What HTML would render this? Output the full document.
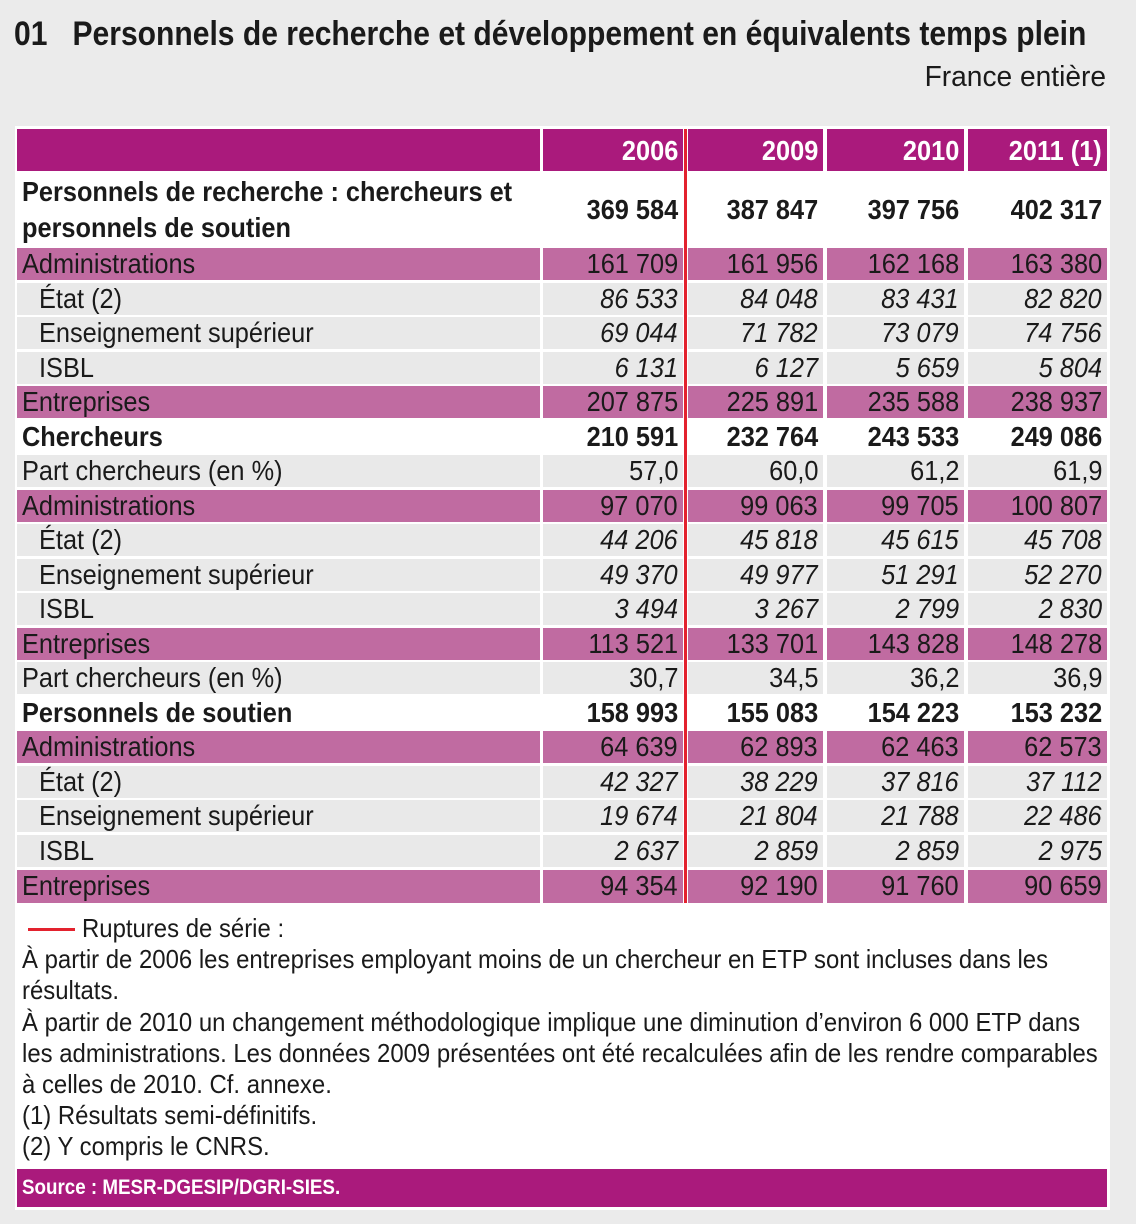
<!DOCTYPE html>
<html><head><meta charset="utf-8"><style>
*{margin:0;padding:0;box-sizing:border-box}
body{width:1136px;height:1224px;background:#ebebeb;position:relative;overflow:hidden;font-family:"Liberation Sans",sans-serif;color:#1a1a1a}
.a{position:absolute;white-space:nowrap}
.panel{left:15px;top:126px;width:1095px;height:1084px;background:#fff}
.r{position:absolute;left:0;width:1136px;height:32px}
.c{position:absolute;top:0;height:100%;font-size:28px;line-height:32px;white-space:nowrap;overflow:visible}
.c0{left:17px;width:523px;text-align:left;padding-left:5px}
.c1{left:543px;width:140px}.c2{left:688px;width:135px}.c3{left:827px;width:137px}.c4{left:968px;width:139px}
.c1,.c2,.c3,.c4{text-align:right;padding-right:5px}
.t{display:inline-block;transform:scaleX(.905);transform-origin:right center}
.c0 .t{transform-origin:left center}
.p .c{background:#c06ba1}
.g .c{background:#e9e9e9}
.i .c1,.i .c2,.i .c3,.i .c4{font-style:italic}
.b .c{font-weight:bold}
.s .c0{padding-left:22px}
.h .c{background:#aa1a7c;color:#fff;font-weight:bold;height:42px;line-height:44px}
.fn{left:22px;font-size:26px;line-height:31px}
.fn .t{transform-origin:left center;transform:scaleX(.92)}
</style></head><body>
<div class="a" style="left:14px;top:14px;font-size:34px;font-weight:bold;line-height:40px"><span class="t" style="transform-origin:left center;transform:scaleX(.884)">01&nbsp;&nbsp;&nbsp;Personnels de recherche et développement en équivalents temps plein</span></div>
<div class="a" style="right:30px;top:60px;font-size:29px;line-height:34px"><span class="t" style="transform:scaleX(.97)">France entière</span></div>
<div class="a panel"></div>

<div class="r h" style="top:129px"><div class="c c0"></div><div class="c c1"><span class="t">2006</span></div><div class="c c2"><span class="t">2009</span></div><div class="c c3"><span class="t">2010</span></div><div class="c c4"><span class="t">2011 (1)</span></div></div>

<div class="r b" style="top:173px;height:73px"><div class="c c0" style="line-height:36px;padding-top:1px"><span class="t">Personnels de recherche : chercheurs et<br>personnels de soutien</span></div><div class="c c1" style="line-height:73px"><span class="t">369 584</span></div><div class="c c2" style="line-height:73px"><span class="t">387 847</span></div><div class="c c3" style="line-height:73px"><span class="t">397 756</span></div><div class="c c4" style="line-height:73px"><span class="t">402 317</span></div></div>

<div class="r p" style="top:248px"><div class="c c0"><span class="t">Administrations</span></div><div class="c c1"><span class="t">161 709</span></div><div class="c c2"><span class="t">161 956</span></div><div class="c c3"><span class="t">162 168</span></div><div class="c c4"><span class="t">163 380</span></div></div>
<div class="r g i s" style="top:282.5px"><div class="c c0"><span class="t">État (2)</span></div><div class="c c1"><span class="t">86 533</span></div><div class="c c2"><span class="t">84 048</span></div><div class="c c3"><span class="t">83 431</span></div><div class="c c4"><span class="t">82 820</span></div></div>
<div class="r g i s" style="top:317px"><div class="c c0"><span class="t">Enseignement supérieur</span></div><div class="c c1"><span class="t">69 044</span></div><div class="c c2"><span class="t">71 782</span></div><div class="c c3"><span class="t">73 079</span></div><div class="c c4"><span class="t">74 756</span></div></div>
<div class="r g i s" style="top:351.5px"><div class="c c0"><span class="t">ISBL</span></div><div class="c c1"><span class="t">6 131</span></div><div class="c c2"><span class="t">6 127</span></div><div class="c c3"><span class="t">5 659</span></div><div class="c c4"><span class="t">5 804</span></div></div>
<div class="r p" style="top:386px"><div class="c c0"><span class="t">Entreprises</span></div><div class="c c1"><span class="t">207 875</span></div><div class="c c2"><span class="t">225 891</span></div><div class="c c3"><span class="t">235 588</span></div><div class="c c4"><span class="t">238 937</span></div></div>
<div class="r b" style="top:420.5px"><div class="c c0"><span class="t">Chercheurs</span></div><div class="c c1"><span class="t">210 591</span></div><div class="c c2"><span class="t">232 764</span></div><div class="c c3"><span class="t">243 533</span></div><div class="c c4"><span class="t">249 086</span></div></div>
<div class="r g" style="top:455px"><div class="c c0"><span class="t">Part chercheurs (en %)</span></div><div class="c c1"><span class="t">57,0</span></div><div class="c c2"><span class="t">60,0</span></div><div class="c c3"><span class="t">61,2</span></div><div class="c c4"><span class="t">61,9</span></div></div>
<div class="r p" style="top:489.5px"><div class="c c0"><span class="t">Administrations</span></div><div class="c c1"><span class="t">97 070</span></div><div class="c c2"><span class="t">99 063</span></div><div class="c c3"><span class="t">99 705</span></div><div class="c c4"><span class="t">100 807</span></div></div>
<div class="r g i s" style="top:524px"><div class="c c0"><span class="t">État (2)</span></div><div class="c c1"><span class="t">44 206</span></div><div class="c c2"><span class="t">45 818</span></div><div class="c c3"><span class="t">45 615</span></div><div class="c c4"><span class="t">45 708</span></div></div>
<div class="r g i s" style="top:558.5px"><div class="c c0"><span class="t">Enseignement supérieur</span></div><div class="c c1"><span class="t">49 370</span></div><div class="c c2"><span class="t">49 977</span></div><div class="c c3"><span class="t">51 291</span></div><div class="c c4"><span class="t">52 270</span></div></div>
<div class="r g i s" style="top:593px"><div class="c c0"><span class="t">ISBL</span></div><div class="c c1"><span class="t">3 494</span></div><div class="c c2"><span class="t">3 267</span></div><div class="c c3"><span class="t">2 799</span></div><div class="c c4"><span class="t">2 830</span></div></div>
<div class="r p" style="top:627.5px"><div class="c c0"><span class="t">Entreprises</span></div><div class="c c1"><span class="t">113 521</span></div><div class="c c2"><span class="t">133 701</span></div><div class="c c3"><span class="t">143 828</span></div><div class="c c4"><span class="t">148 278</span></div></div>
<div class="r g" style="top:662px"><div class="c c0"><span class="t">Part chercheurs (en %)</span></div><div class="c c1"><span class="t">30,7</span></div><div class="c c2"><span class="t">34,5</span></div><div class="c c3"><span class="t">36,2</span></div><div class="c c4"><span class="t">36,9</span></div></div>
<div class="r b" style="top:696.5px"><div class="c c0"><span class="t">Personnels de soutien</span></div><div class="c c1"><span class="t">158 993</span></div><div class="c c2"><span class="t">155 083</span></div><div class="c c3"><span class="t">154 223</span></div><div class="c c4"><span class="t">153 232</span></div></div>
<div class="r p" style="top:731px"><div class="c c0"><span class="t">Administrations</span></div><div class="c c1"><span class="t">64 639</span></div><div class="c c2"><span class="t">62 893</span></div><div class="c c3"><span class="t">62 463</span></div><div class="c c4"><span class="t">62 573</span></div></div>
<div class="r g i s" style="top:765.5px"><div class="c c0"><span class="t">État (2)</span></div><div class="c c1"><span class="t">42 327</span></div><div class="c c2"><span class="t">38 229</span></div><div class="c c3"><span class="t">37 816</span></div><div class="c c4"><span class="t">37 112</span></div></div>
<div class="r g i s" style="top:800px"><div class="c c0"><span class="t">Enseignement supérieur</span></div><div class="c c1"><span class="t">19 674</span></div><div class="c c2"><span class="t">21 804</span></div><div class="c c3"><span class="t">21 788</span></div><div class="c c4"><span class="t">22 486</span></div></div>
<div class="r g i s" style="top:834.5px"><div class="c c0"><span class="t">ISBL</span></div><div class="c c1"><span class="t">2 637</span></div><div class="c c2"><span class="t">2 859</span></div><div class="c c3"><span class="t">2 859</span></div><div class="c c4"><span class="t">2 975</span></div></div>
<div class="r p" style="top:870px;height:33px"><div class="c c0"><span class="t">Entreprises</span></div><div class="c c1"><span class="t">94 354</span></div><div class="c c2"><span class="t">92 190</span></div><div class="c c3"><span class="t">91 760</span></div><div class="c c4"><span class="t">90 659</span></div></div>

<div class="a" style="left:684px;top:129px;width:3px;height:774px;background:#e3222e"></div>

<div class="a" style="left:28px;top:928px;width:47px;height:3px;background:#e3222e"></div>
<div class="a fn" style="left:82px;top:913px"><span class="t">Ruptures de série :</span></div>
<div class="a fn" style="top:944px"><span class="t">À partir de 2006 les entreprises employant moins de un chercheur en ETP sont incluses dans les</span></div>
<div class="a fn" style="top:975px"><span class="t">résultats.</span></div>
<div class="a fn" style="top:1007px"><span class="t">À partir de 2010 un changement méthodologique implique une diminution d’environ 6 000 ETP dans</span></div>
<div class="a fn" style="top:1038px"><span class="t">les administrations. Les données 2009 présentées ont été recalculées afin de les rendre comparables</span></div>
<div class="a fn" style="top:1069px"><span class="t">à celles de 2010. Cf. annexe.</span></div>
<div class="a fn" style="top:1100px"><span class="t">(1) Résultats semi-définitifs.</span></div>
<div class="a fn" style="top:1131px"><span class="t">(2) Y compris le CNRS.</span></div>

<div class="a" style="left:17px;top:1169px;width:1090px;height:38px;background:#aa1a7c"></div>
<div class="a" style="left:22px;top:1173px;font-size:21px;line-height:30px;font-weight:bold;color:#fff"><span class="t" style="transform-origin:left center;transform:scaleX(.894)">Source : MESR-DGESIP/DGRI-SIES.</span></div>
</body></html>
